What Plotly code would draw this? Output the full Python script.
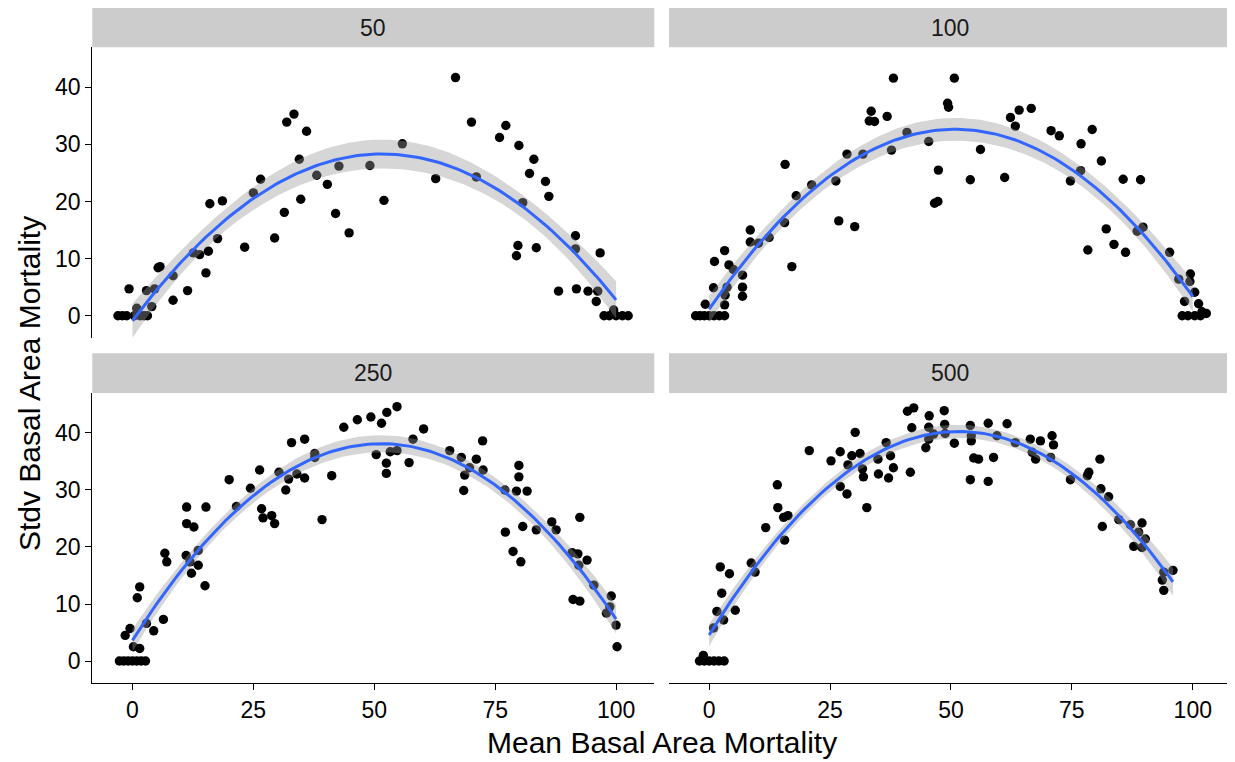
import numpy as np
import plotly.graph_objects as go

# ---------------- data (x includes visible jitter) ----------------
panel_labels = ["50", "100", "250", "500"]

x50 = [-3.0, -2.1, -1.2, 0.4, 1.6, 2.4, 3.1,
       -0.7, 0.9, 4.0, 2.9, 4.6, 5.3, 5.7, 8.4, 8.4, 11.4, 12.6, 13.9, 15.7, 15.2, 17.6, 16.0, 18.6,
       23.2, 25.0, 26.5, 29.4, 31.4, 31.9, 33.4, 36.0, 34.5, 34.8, 38.1, 40.3, 42.0, 42.7, 44.8,
       49.1, 55.8, 52.0, 62.7, 66.8, 70.1, 71.1, 75.9, 77.2, 79.9, 83.0, 82.1, 85.4, 86.1, 80.7,
       79.7, 79.4, 83.5, 91.6, 91.6, 96.7, 88.1, 91.8, 94.2, 96.2, 95.9, 99.5,
       97.5, 98.6, 100.0, 101.3, 102.5]
y50 = [0, 0, 0, 0, 0, 0, 0,
       4.7, 1.3, 1.6, 4.4, 4.7, 8.4, 8.6, 7.0, 2.7, 4.4, 11.0, 10.7, 11.3, 7.5, 13.5, 19.6, 20.1,
       12.0, 21.5, 23.9, 13.6, 18.1, 33.9, 35.3, 32.3, 27.4, 20.4, 24.6, 23.0, 17.9, 26.2, 14.5,
       26.3, 30.1, 20.2, 24.0, 41.7, 33.9, 24.3, 31.2, 33.3, 29.8, 27.4, 24.9, 23.5, 20.9, 19.8,
       12.3, 10.5, 11.9, 14.0, 11.7, 11.0, 4.3, 4.7, 4.3, 4.3, 2.5, 1.0,
       0, 0, 0, 0, 0]

x100 = [-2.8, -1.9, -1.0, 0.0, 1.0, 2.1, 3.2,
        -0.8, 3.2, 0.9, 3.7, 3.3, 6.9, 6.9, 6.9, 1.1, 3.2, 4.1, 5.0, 8.5, 8.5, 10.2, 12.4, 15.6,
        17.1, 15.7, 18.0, 21.2, 26.2, 26.8, 30.1, 28.5, 31.8, 33.5, 34.2, 33.1, 36.8, 38.1, 37.7,
        40.9, 45.4, 47.4, 46.6, 47.3, 49.3, 50.7, 49.5, 56.1, 54.0, 61.1, 62.3, 64.1, 63.3, 66.6,
        70.7, 72.4, 79.2, 76.9, 81.1, 76.8, 74.7, 85.6, 89.2, 82.1, 83.7, 86.1, 78.3, 89.7, 88.5,
        95.2, 97.1, 99.5, 99.4, 100.4, 98.3, 101.2, 101.9, 102.8,
        97.8, 99.0, 100.4, 101.6]
y100 = [0, 0, 0, 0, 0, 0, 0,
        2.0, 1.9, 4.9, 5.0, 3.6, 5.0, 3.4, 7.1, 9.5, 11.4, 8.9, 8.1, 15.0, 12.9, 12.7, 13.7, 16.3,
        8.6, 26.5, 21.0, 22.9, 23.6, 16.6, 15.6, 28.3, 28.3, 35.8, 34.0, 34.1, 34.9, 41.6, 29.0,
        32.1, 30.5, 25.5, 19.7, 20.0, 37.2, 41.6, 36.5, 29.1, 23.8, 24.2, 34.7, 36.0, 33.2, 36.3,
        32.4, 31.5, 32.6, 30.1, 27.1, 25.4, 23.6, 23.9, 23.8, 15.2, 12.5, 11.1, 11.5, 15.5, 14.8,
        11.1, 6.4, 7.3, 6.0, 4.1, 2.5, 2.1, 0.7, 0.4,
        0, 0, 0, 0]

x250 = [-2.7, -1.8, -0.9, 0.0, 0.9, 1.8, 2.7,
        0.2, 1.5, -1.5, -0.5, 2.9, 4.4, 6.4, 1.0, 1.5, 6.7, 7.1, 11.2, 11.2, 12.7, 15.2, 11.1, 11.9,
        13.6, 13.6, 12.2, 15.0, 20.0, 21.5, 24.4, 26.3, 26.7, 27.0, 28.8, 29.4, 30.3, 31.7, 32.3,
        34.0, 35.6, 32.9, 35.6, 37.7, 37.7, 41.2, 39.2, 43.7, 46.5, 49.3, 51.5, 52.6, 54.7, 50.4,
        52.5, 52.5, 53.3, 54.7, 57.2, 58.0, 60.2, 65.6, 68.0, 71.1, 69.7, 72.5, 72.4, 68.7, 68.5,
        77.0, 79.4, 81.6, 79.9, 79.9, 80.7, 77.1, 83.5, 78.7, 80.3, 86.7, 87.6, 92.5, 90.9, 92.1,
        94.0, 92.3, 95.4, 91.1, 92.5, 99.0, 98.7, 98.0, 100.0, 100.2]
y250 = [0, 0, 0, 0, 0, 0, 0,
        2.5, 2.2, 4.5, 5.7, 6.6, 5.3, 7.3, 11.1, 13.0, 18.9, 17.4, 27.0, 24.1, 23.5, 27.0, 18.5, 17.4,
        19.4, 16.8, 15.4, 13.2, 31.8, 27.1, 30.3, 33.5, 26.7, 25.1, 25.5, 24.1, 33.1, 30.0, 31.9,
        32.8, 32.1, 38.3, 38.9, 36.4, 35.7, 32.5, 24.8, 41.0, 42.3, 42.8, 41.7, 43.6, 44.6, 36.2,
        34.7, 32.9, 36.7, 36.9, 34.8, 38.9, 40.7, 36.9, 35.7, 35.4, 33.9, 33.5, 38.6, 32.6, 29.9,
        30.0, 29.8, 29.8, 34.3, 32.3, 23.6, 22.6, 23.0, 19.2, 17.4, 24.4, 23.0, 25.2, 19.0, 18.8,
        17.7, 16.8, 13.3, 10.8, 10.5, 11.4, 9.5, 8.4, 6.3, 2.5]

x500 = [-2.0, -1.0, 0.0, 1.0, 2.0, 3.1, -1.2,
        0.9, 1.6, 3.0, 5.4, 2.6, 2.3, 4.2, 8.7, 9.5, 11.7, 15.6, 14.1, 14.2, 15.4, 16.3, 20.7, 25.2,
        27.1, 27.1, 28.5, 30.2, 29.5, 31.2, 28.7, 31.7, 31.9, 32.6, 34.9, 35.0, 36.6, 37.5, 38.1,
        37.1, 41.6, 41.0, 42.3, 41.9, 45.5, 45.4, 45.4, 44.8, 46.4, 48.6, 48.7, 48.8, 50.7, 54.0,
        54.2, 54.2, 54.7, 55.7, 54.0, 57.7, 59.5, 58.8, 57.7, 61.6, 63.3, 66.4, 68.5, 66.8, 67.5,
        70.9, 71.2, 70.6, 74.7, 78.2, 78.5, 80.8, 81.0, 82.6, 81.3, 84.7, 87.1, 89.5, 88.8, 90.2,
        87.8, 89.5, 95.9, 94.0, 93.7, 94.0]
y500 = [0, 0, 0, 0, 0, 0, 1.0,
        5.8, 8.7, 7.2, 8.9, 11.9, 16.5, 15.3, 17.2, 15.6, 23.4, 21.2, 30.9, 26.9, 25.2, 25.5, 36.9, 35.1,
        36.7, 30.6, 29.3, 40.1, 36.0, 36.4, 34.4, 33.7, 32.3, 26.9, 35.4, 32.8, 38.3, 36.0, 33.9,
        32.1, 33.1, 43.8, 44.4, 40.9, 43.0, 41.0, 38.9, 37.4, 39.8, 43.9, 41.5, 39.9, 38.2, 41.3,
        39.5, 38.6, 35.6, 35.4, 31.8, 41.7, 39.5, 35.7, 31.5, 41.6, 38.3, 38.9, 38.6, 36.6, 35.4,
        39.5, 37.9, 35.7, 31.8, 32.5, 33.1, 35.4, 30.2, 28.8, 23.6, 24.8, 23.9, 24.2, 22.6, 21.4,
        20.1, 19.9, 15.9, 15.6, 14.2, 12.4]

x_ticks = [0, 25, 50, 75, 100]
y_ticks = [0, 10, 20, 30, 40]

panels = [(x50, y50), (x100, y100), (x250, y250), (x500, y500)]

# ---------------- layout geometry ----------------
# The page body adds an 8px offset, so the figure is drawn 8px smaller and all
# reference pixel positions are shifted by that offset.
OFF = 8
W, H = 1235 - OFF, 762 - OFF
col_px = [(92.3, 654.3), (669.0, 1231.0)]
row_panel_px = [(47.3, 337.7), (393.0, 683.0)]
row_strip_px = [(8.0, 47.3), (353.3, 393.0)]

def px_x(p):
    return (p - OFF) / W

def px_y(p):
    return 1 - (p - OFF) / H

def xdom(c):
    return [px_x(col_px[c][0]), px_x(col_px[c][1])]

def ydom(top, bottom):
    return [px_y(bottom), px_y(top)]

FONT = "Liberation Sans, Arial, sans-serif"
fig = go.Figure()
t_crit = 1.984

for i, (xs, ys) in enumerate(panels):
    r, c = divmod(i, 2)
    ax = "" if i == 0 else str(i + 1)
    xa, ya = "x" + ax, "y" + ax
    x = np.asarray(xs, float)
    y = np.asarray(ys, float)

    # points
    fig.add_trace(go.Scatter(x=x, y=y, mode="markers", xaxis=xa, yaxis=ya,
                             marker=dict(color="black", size=9.4, line=dict(width=0)),
                             showlegend=False, hoverinfo="skip"))

    # quadratic lm smooth with 95% CI
    X = np.column_stack([np.ones_like(x), x, x ** 2])
    beta, *_ = np.linalg.lstsq(X, y, rcond=None)
    resid = y - X @ beta
    s2 = resid @ resid / (len(x) - 3)
    XtXi = np.linalg.inv(X.T @ X)
    lo, hi = max(x.min(), 0.0), min(x.max(), 100.0)
    gx = np.linspace(lo, hi, 120)
    G = np.column_stack([np.ones_like(gx), gx, gx ** 2])
    fit = G @ beta
    se = np.sqrt(np.einsum("ij,jk,ik->i", G, XtXi, G) * s2)
    fig.add_trace(go.Scatter(x=gx, y=fit - t_crit * se, mode="lines", xaxis=xa, yaxis=ya,
                             line=dict(width=0, color="rgba(0,0,0,0)"),
                             showlegend=False, hoverinfo="skip"))
    fig.add_trace(go.Scatter(x=gx, y=fit + t_crit * se, mode="lines", xaxis=xa, yaxis=ya,
                             fill="tonexty", fillcolor="rgba(153,153,153,0.4)",
                             line=dict(width=0, color="rgba(0,0,0,0)"),
                             showlegend=False, hoverinfo="skip"))
    fig.add_trace(go.Scatter(x=gx, y=fit, mode="lines", xaxis=xa, yaxis=ya,
                             line=dict(color="#3366FF", width=3),
                             showlegend=False, hoverinfo="skip"))

    bottom_row = (r == 1)
    left_col = (c == 0)
    fig.layout["xaxis" + ax] = dict(
        domain=xdom(c), range=[-8.3, 107.9], anchor=ya,
        tickmode="array", tickvals=x_ticks, ticktext=[str(v) for v in x_ticks],
        showticklabels=bottom_row, showline=bottom_row, ticks="outside" if bottom_row else "",
        ticklen=6, tickwidth=1.3, tickcolor="black", linecolor="black", linewidth=1.3,
        showgrid=False, zeroline=False, fixedrange=True,
        tickfont=dict(family=FONT, size=23, color="black"))
    fig.layout["yaxis" + ax] = dict(
        domain=ydom(*row_panel_px[r]), range=[-3.85, 47.0], anchor=xa,
        tickmode="array", tickvals=y_ticks, ticktext=[str(v) for v in y_ticks],
        showticklabels=left_col, showline=left_col, ticks="outside" if left_col else "",
        ticklen=6, tickwidth=1.3, tickcolor="black", linecolor="black", linewidth=1.3,
        showgrid=False, zeroline=False, fixedrange=True,
        tickfont=dict(family=FONT, size=23, color="black"))

    # facet strip
    sy = ydom(*row_strip_px[r])
    sx = xdom(c)
    fig.add_shape(type="rect", xref="paper", yref="paper", x0=sx[0], x1=sx[1], y0=sy[0], y1=sy[1],
                  fillcolor="#CCCCCC", line=dict(width=0), layer="below")
    fig.add_annotation(text=panel_labels[i], xref="paper", yref="paper",
                       x=(sx[0] + sx[1]) / 2, y=(sy[0] + sy[1]) / 2, showarrow=False,
                       xanchor="center", yanchor="middle",
                       font=dict(family=FONT, size=23, color="#1A1A1A"))

# axis titles
fig.add_annotation(text="Mean Basal Area Mortality", xref="paper", yref="paper",
                   x=px_x(661.5), y=px_y(742), showarrow=False, xanchor="center", yanchor="middle",
                   font=dict(family=FONT, size=30, color="black"))
fig.add_annotation(text="Stdv Basal Area Mortality", xref="paper", yref="paper",
                   x=px_x(30), y=px_y(384), showarrow=False, xanchor="center", yanchor="middle",
                   textangle=-90, font=dict(family=FONT, size=30, color="black"))

fig.update_layout(width=W, height=H, margin=dict(l=0, r=0, t=0, b=0),
                  paper_bgcolor="white", plot_bgcolor="white", showlegend=False)

fig.write_html("out.html")
